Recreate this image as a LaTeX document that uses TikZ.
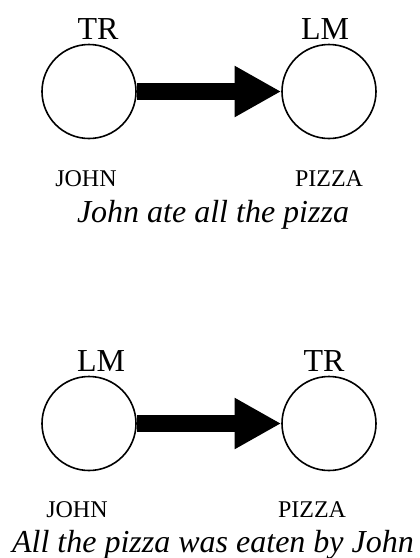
\documentclass[tikz,border=0pt]{standalone}
\usepackage{fontspec}
\setmainfont{Liberation Serif}
\usetikzlibrary{arrows.meta}

\begin{document}
\begin{tikzpicture}[x=0.75pt, y=-0.75pt,
    blob/.style={circle, draw, line width=1.2pt, minimum size=70.5pt, inner sep=0pt},
    role/.style={anchor=base, inner sep=0pt, font=\fontsize{24}{28}\selectfont},
    word/.style={anchor=base, inner sep=0pt, font=\fontsize{18}{22}\selectfont},
    gloss/.style={anchor=base, inner sep=0pt, font=\fontsize{24}{28}\selectfont\itshape},
    fat/.style={line width=12.75pt, -{Triangle[length=35pt, width=36pt]}}]

    \useasboundingbox (0, 0) rectangle (419, 558);

    % active
    \node[blob] (a) at (89, 91.5) {};
    \node[blob] (b) at (329, 91.5) {};
    \node[role] (c) at (98, 39) {TR};
    \node[role] (d) at (325, 39) {LM};
    \node[word] (e) at (86, 186) {JOHN};
    \node[word] (f) at (329, 186) {PIZZA};
    \node[gloss] (g) at (213, 222) {John ate all the pizza};

    \draw [fat] (a) to (b);

    % passive
    \node[blob] (h) at (89, 423.5) {};
    \node[blob] (i) at (329, 423.5) {};
    \node[role] (j) at (101, 371) {LM};
    \node[role] (k) at (324, 371) {TR};
    \node[word] (l) at (77, 517) {JOHN};
    \node[word] (m) at (312, 517) {PIZZA};
    \node[gloss] (n) at (213, 552) {All the pizza was eaten by John};

    \draw [fat] (h) to (i);

  \end{tikzpicture}
\end{document}
